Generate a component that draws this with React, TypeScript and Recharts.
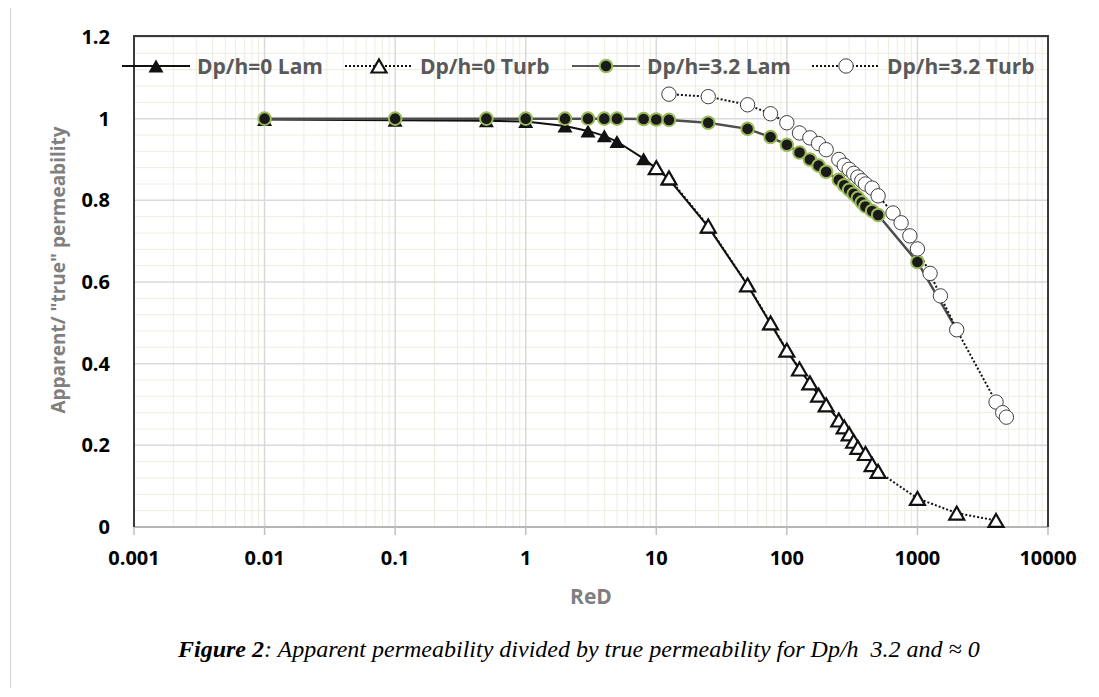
import React from 'react';
import { ComposedChart, Line, XAxis, YAxis, CartesianGrid, Label } from 'recharts';

// axis ticks
const reTicks = [0.001, 0.01, 0.1, 1, 10, 100, 1000, 10000];
const kTicks = [0, 0.2, 0.4, 0.6, 0.8, 1, 1.2];

// Dp/h=0 Lam
const lam0Re = [0.01, 0.1, 0.5, 1, 2, 3, 4, 5, 8, 10, 12.5, 25, 50, 75, 100, 125, 150, 175, 200, 250, 275, 300, 325, 350, 400, 450, 500];
const lam0K = [0.998, 0.996, 0.995, 0.993, 0.982, 0.97, 0.958, 0.944, 0.902, 0.878, 0.852, 0.735, 0.592, 0.498, 0.432, 0.386, 0.352, 0.323, 0.299, 0.262, 0.245, 0.228, 0.21, 0.195, 0.178, 0.155, 0.14];

// Dp/h=0 Turb
const turb0Re = [10, 12.5, 25, 50, 75, 100, 125, 150, 175, 200, 250, 275, 300, 325, 350, 400, 450, 500, 1000, 2000, 4000];
const turb0K = [0.88, 0.855, 0.737, 0.593, 0.5, 0.433, 0.387, 0.353, 0.323, 0.299, 0.262, 0.245, 0.228, 0.21, 0.195, 0.18, 0.153, 0.136, 0.07, 0.034, 0.016];

// Dp/h=3.2 Lam
const lam32Re = [0.01, 0.1, 0.5, 1, 2, 3, 4, 5, 8, 10, 12.5, 25, 50, 75, 100, 125, 150, 175, 200, 250, 275, 300, 325, 350, 375, 400, 450, 500, 1000, 2000];
const lam32K = [1, 1, 1, 1, 1, 1, 1, 1, 0.999, 0.998, 0.997, 0.99, 0.975, 0.955, 0.936, 0.917, 0.9, 0.885, 0.87, 0.85, 0.837, 0.826, 0.816, 0.806, 0.795, 0.785, 0.774, 0.764, 0.649, 0.483];

// Dp/h=3.2 Turb
const turb32Re = [12.5, 25, 50, 75, 100, 125, 150, 175, 200, 250, 275, 300, 325, 350, 375, 400, 450, 500, 650, 750, 875, 1000, 1250, 1500, 2000, 4000, 4500, 4800];
const turb32K = [1.06, 1.054, 1.034, 1.012, 0.99, 0.965, 0.953, 0.939, 0.924, 0.9, 0.886, 0.876, 0.866, 0.857, 0.848, 0.84, 0.83, 0.811, 0.769, 0.745, 0.713, 0.681, 0.621, 0.566, 0.483, 0.306, 0.28, 0.269];

const toPoints = (re: number[], k: number[]) => re.map((x, i) => ({ x, y: k[i] }));

// minor gridlines: 2..9 per decade, 0.04 steps
const minorRe: number[] = [];
reTicks.slice(0, -1).forEach((d) => {
  for (let m = 2; m <= 9; m++) minorRe.push(Number((d * m).toPrecision(3)));
});
const minorK: number[] = [];
for (let i = 1; i < 30; i++) if (i % 5 !== 0) minorK.push(Number((i * 0.04).toFixed(2)));

const GREEN = '#9bbb59';
const FONT = '"Open Sans", "DejaVu Sans", sans-serif';

const tri = (cx: number, cy: number) => `M${cx},${cy - 6.5} L${cx + 7.5},${cy + 6.5} L${cx - 7.5},${cy + 6.5} Z`;

const FilledTriangle = (props: any) => {
  const { cx, cy, index } = props;
  return <path key={`ft-${index}`} d={tri(cx, cy)} fill="#111" />;
};

const OpenTriangle = (props: any) => {
  const { cx, cy, index } = props;
  return <path key={`ot-${index}`} d={tri(cx, cy)} fill="#fff" stroke="#111" strokeWidth={2.2} strokeLinejoin="miter" />;
};

const FilledCircle = (props: any) => {
  const { cx, cy, index } = props;
  return <circle key={`fc-${index}`} cx={cx} cy={cy} r={6.3} fill="#1a1a1a" stroke={GREEN} strokeWidth={2} />;
};

const OpenCircle = (props: any) => {
  const { cx, cy, index } = props;
  return <circle key={`oc-${index}`} cx={cx} cy={cy} r={7.2} fill="#fff" stroke="#404040" strokeWidth={1} />;
};

const YTitle = (props: any) => {
  const { viewBox } = props;
  const cx = viewBox.x + 50;
  const cy = viewBox.y + viewBox.height / 2 - 12;
  return (
    <text
      x={cx}
      y={cy}
      transform={`rotate(-90, ${cx}, ${cy})`}
      textAnchor="middle"
      dominantBaseline="central"
      fill="#7f7f7f"
      fontSize={19}
      fontWeight={700}
      fontFamily={FONT}
    >
      Apparent/ "true" permeability
    </text>
  );
};

const legendItems = [
  { name: 'Dp/h=0 Lam', width: 223, stroke: '#111', dash: undefined, marker: 'ft' },
  { name: 'Dp/h=0 Turb', width: 227, stroke: '#111', dash: '2 2', marker: 'ot' },
  { name: 'Dp/h=3.2 Lam', width: 240, stroke: '#595959', dash: undefined, marker: 'fc' },
  { name: 'Dp/h=3.2 Turb', width: 200, stroke: '#111', dash: '2 2', marker: 'oc' },
];

const LegendMarker = ({ marker }: { marker: string }) => {
  if (marker === 'ft') return <FilledTriangle cx={34} cy={10} index={0} />;
  if (marker === 'ot') return <OpenTriangle cx={34} cy={10} index={0} />;
  if (marker === 'fc') return <FilledCircle cx={34} cy={10} index={0} />;
  return <OpenCircle cx={34} cy={10} index={0} />;
};

export default function App() {
  return (
    <div style={{ position: 'relative', width: 1083, height: 680, fontFamily: FONT }}>
      <div style={{ position: 'absolute', left: 2, top: -8, width: 1, height: 690, background: '#d4d4d4' }} />

      <ComposedChart width={1083} height={620} margin={{ top: 29, right: 43, bottom: 20, left: 0 }}>
        <CartesianGrid stroke="#eeece1" strokeWidth={1} horizontalValues={minorK} verticalValues={minorRe} syncWithTicks={false} />
        <CartesianGrid stroke="#d9d9d9" strokeWidth={1.5} horizontalValues={kTicks} verticalValues={reTicks} syncWithTicks={false} />
        <XAxis
          dataKey="x"
          type="number"
          scale="log"
          domain={[0.001, 10000]}
          ticks={reTicks}
          interval={0}
          allowDataOverflow
          height={81}
          tickSize={8}
          tickMargin={16}
          axisLine={{ stroke: '#a6a6a6', strokeWidth: 1.5 }}
          tickLine={{ stroke: '#bfbfbf', strokeWidth: 1.5 }}
          tick={{ fill: '#000', fontSize: 20, fontWeight: 700, fontFamily: FONT }}
          tickFormatter={(v: number) => String(v)}
        >
          <Label value="ReD" position="insideBottom" offset={4} fill="#7f7f7f" fontSize={21} fontWeight={700} fontFamily={FONT} />
        </XAxis>
        <YAxis
          type="number"
          domain={[0, 1.2]}
          ticks={kTicks}
          interval={0}
          width={126}
          tickSize={0}
          tickMargin={24}
          axisLine={false}
          tickLine={false}
          tick={{ fill: '#000', fontSize: 20, fontWeight: 700, fontFamily: FONT }}
          tickFormatter={(v: number) => String(v)}
        >
          <Label content={<YTitle />} />
        </YAxis>

        <Line
          data={toPoints(lam0Re, lam0K)}
          dataKey="y"
          name="Dp/h=0 Lam"
          type="linear"
          stroke="#111"
          strokeWidth={2}
          dot={FilledTriangle}
          activeDot={false}
          isAnimationActive={false}
        />
        <Line
          data={toPoints(turb0Re, turb0K)}
          dataKey="y"
          name="Dp/h=0 Turb"
          type="linear"
          stroke="#111"
          strokeWidth={2}
          strokeDasharray="2 2"
          dot={OpenTriangle}
          activeDot={false}
          isAnimationActive={false}
        />
        <Line
          data={toPoints(lam32Re, lam32K)}
          dataKey="y"
          name="Dp/h=3.2 Lam"
          type="linear"
          stroke="#4d4d4d"
          strokeWidth={2.5}
          dot={FilledCircle}
          activeDot={false}
          isAnimationActive={false}
        />
        <Line
          data={toPoints(turb32Re, turb32K)}
          dataKey="y"
          name="Dp/h=3.2 Turb"
          type="linear"
          stroke="#111"
          strokeWidth={2}
          strokeDasharray="2 2"
          dot={OpenCircle}
          activeDot={false}
          isAnimationActive={false}
        />
      </ComposedChart>

      {/* plot frame */}
      <div
        style={{
          position: 'absolute',
          left: 125,
          top: 27,
          width: 916,
          height: 492,
          boxSizing: 'border-box',
          borderTop: '2.5px solid #3a3a3a',
          borderLeft: '2px solid #3a3a3a',
          borderRight: '2px solid #3a3a3a',
          pointerEvents: 'none',
        }}
      />

      {/* legend */}
      <div style={{ position: 'absolute', left: 114, top: 46, display: 'flex', alignItems: 'center', height: 24 }}>
        {legendItems.map((item) => (
          <div key={item.name} style={{ width: item.width, display: 'flex', alignItems: 'center' }}>
            <svg width={68} height={20} style={{ overflow: 'visible' }}>
              <line x1={0} y1={10} x2={68} y2={10} stroke={item.stroke} strokeWidth={2} strokeDasharray={item.dash} />
              <LegendMarker marker={item.marker} />
            </svg>
            <span style={{ marginLeft: 7, color: '#595959', fontSize: 21, fontWeight: 700, whiteSpace: 'nowrap' }}>{item.name}</span>
          </div>
        ))}
      </div>

      <div
        style={{
          position: 'absolute',
          left: 170,
          top: 628,
          fontFamily: '"Liberation Serif", "Times New Roman", serif',
          fontStyle: 'italic',
          fontSize: 24,
          lineHeight: '26px',
          whiteSpace: 'pre',
          color: '#000',
        }}
      >
        <b>Figure 2</b>: Apparent permeability divided by true permeability for Dp/h  3.2 and ≈ 0
      </div>
    </div>
  );
}
